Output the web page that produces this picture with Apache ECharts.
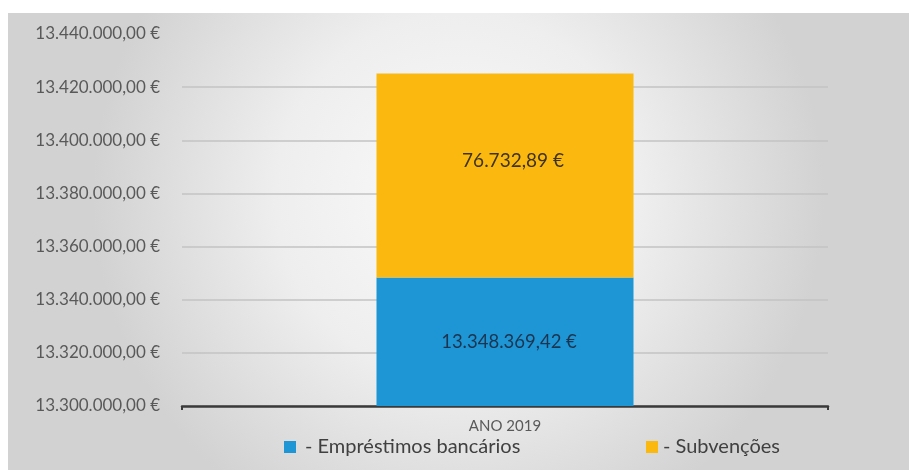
<!DOCTYPE html>
<html>
<head>
<meta charset="utf-8">
<script src="https://cdn.jsdelivr.net/npm/echarts@6/dist/echarts.min.js"></script>
<style>
  html, body { margin: 0; padding: 0; background: #ffffff; }
  #chart { width: 909px; height: 470px; }
</style>
</head>
<body>
<div id="chart"></div>
<script>
// Financing sources for the year
const categories = ['ANO 2019'];
const seriesNames = ['Empréstimos bancários', 'Subvenções'];
const emprestimos = [13348369.42];
const subvencoes = [76732.89];
const axisMin = 13300000;
const axisMax = 13440000;
const axisStep = 20000;

// Portuguese money format: 13.348.369,42 €
function euro(v, decimals) {
  const fixed = Math.abs(v).toFixed(decimals);
  const parts = fixed.split('.');
  const intPart = parts[0].replace(/\B(?=(\d{3})+(?!\d))/g, '.');
  return (v < 0 ? '-' : '') + intPart + (parts[1] ? ',' + parts[1] : '') + ' €';
}

const chart = echarts.init(document.getElementById('chart'), null, { renderer: 'canvas' });
const fontFamily = 'Lato, "Open Sans", sans-serif';

// one split line per tick, the top one left out
const gridColors = [];
for (let v = axisMin; v <= axisMax; v += axisStep) {
  gridColors.push(v === axisMax ? 'rgba(0,0,0,0)' : '#c3c3c3');
}

chart.setOption({
  animation: false,
  graphic: [{
    type: 'rect',
    silent: true,
    z: -10,
    shape: { x: 8, y: 13, width: 901, height: 457 },
    style: {
      fill: new echarts.graphic.RadialGradient(0.5, 0.4, 0.8, [
        { offset: 0, color: '#fafafa' },
        { offset: 0.5, color: '#eeeeee' },
        { offset: 1, color: '#d2d2d2' }
      ])
    }
  }],
  grid: { left: 182, right: 81, top: 34, bottom: 64 },
  legend: [{
    data: [seriesNames[0]],
    left: 279, top: 432,
    icon: 'rect', itemWidth: 12, itemHeight: 12, itemGap: 0,
    formatter: n => '- ' + n,
    textStyle: { fontFamily, fontSize: 20, color: '#404040', padding: [0, 0, 0, 4] }
  }, {
    data: [seriesNames[1]],
    left: 641, top: 432,
    icon: 'rect', itemWidth: 12, itemHeight: 12, itemGap: 0,
    formatter: n => '- ' + n,
    textStyle: { fontFamily, fontSize: 20, color: '#404040', padding: [0, 0, 0, 0] }
  }],
  xAxis: {
    type: 'category',
    data: categories,
    axisLine: { lineStyle: { color: '#3a3a3a', width: 2.5 } },
    axisTick: { show: true, length: 4, lineStyle: { color: '#3a3a3a', width: 2 } },
    axisLabel: { fontFamily, fontSize: 15, color: '#595959', margin: 13 }
  },
  yAxis: {
    type: 'value',
    min: axisMin,
    max: axisMax,
    interval: axisStep,
    axisLine: { show: false },
    axisTick: { show: false },
    axisLabel: {
      fontFamily, fontSize: 17, color: '#595959', margin: 22,
      formatter: v => euro(v, 2)
    },
    splitLine: { lineStyle: { color: gridColors, width: 1.5 } }
  },
  series: [{
    name: seriesNames[0],
    type: 'bar',
    stack: 'total',
    data: emprestimos,
    barWidth: 257,
    itemStyle: { color: '#1e96d5' },
    label: {
      show: true, position: 'inside', offset: [4, 0],
      fontFamily, fontSize: 18.5, color: '#1b3550',
      formatter: p => euro(p.value, 2)
    }
  }, {
    name: seriesNames[1],
    type: 'bar',
    stack: 'total',
    data: subvencoes,
    barWidth: 257,
    itemStyle: { color: '#fbb910' },
    label: {
      show: true, position: 'inside', offset: [8, -15],
      fontFamily, fontSize: 19, color: '#3d3320',
      formatter: p => euro(p.value, 2)
    }
  }]
});
</script>
</body>
</html>
